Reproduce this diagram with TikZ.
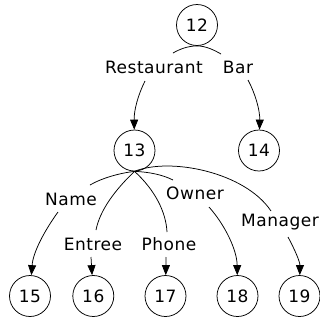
\documentclass[tikz,border=0pt]{standalone}
\usepackage{fontspec}
\setmainfont{DejaVu Sans}[LetterSpace=3]
\usetikzlibrary{arrows.meta}
\begin{document}
\begin{tikzpicture}[x=1pt,y=-1pt,
  state/.style={circle,draw,line width=0.75pt,minimum size=41pt,inner sep=0pt,font=\fontsize{17}{20}\selectfont},
  lbl/.style={inner sep=0pt,font=\fontsize{17}{20}\selectfont},
  edge/.style={line width=0.75pt},
  arr/.style={line width=0.75pt,-{Triangle[length=10pt,width=8pt]}}]
\useasboundingbox (0,0) rectangle (320,322);
\node[state] (n12) at (197,25) {12};
\node[state] (n13) at (134.5,150.5) {13};
\node[state] (n14) at (259,150.5) {14};
\node[state] (n15) at (30,296) {15};
\node[state] (n16) at (93.3,296) {16};
\node[state] (n17) at (165.5,296) {17};
\node[state] (n18) at (237.5,296) {18};
\node[state] (n19) at (299.5,296) {19};
% labels
\node[lbl] (lrest) at (154,67) {Restaurant};
\node[lbl] (lbar) at (238,67) {Bar};
\node[lbl] (lname) at (71,199) {Name};
\node[lbl] (lentree) at (93,244) {Entree};
\node[lbl] (lphone) at (169,244) {Phone};
\node[lbl] (lowner) at (195,193) {Owner};
\node[lbl] (lman) at (280,222) {Manager};
% coordinates at label ends
\coordinate (rt) at (173,53); \coordinate (rb) at (145,81);
\coordinate (bt) at (221,54); \coordinate (bb) at (248,80);
\coordinate (nt) at (90,185); \coordinate (nb) at (58,212);
\coordinate (et) at (96,230); \coordinate (eb) at (91,257);
\coordinate (pt) at (167,232); \coordinate (pb) at (166,257);
\coordinate (ot) at (173,180); \coordinate (ob) at (209,207);
\coordinate (mt) at (271,211); \coordinate (mb) at (288,237);
% edges from 12
\draw[edge] (n12.south) .. controls (188,46) and (180,49) .. (rt);
\draw[arr] (rb) .. controls (138,95) and (134,110) .. (n13);
\draw[edge] (n12.south) .. controls (206,46) and (214,50) .. (bt);
\draw[arr] (bb) .. controls (255,93) and (260,110) .. (n14);
% edges from 13
\draw[edge] (n13.south) .. controls (120,173) and (102,178) .. (nt);
\draw[arr] (nb) .. controls (45,230) and (33,252) .. (n15);
\draw[edge] (n13.south) .. controls (115,190) and (100,210) .. (et);
\draw[arr] (eb) -- (n16);
\draw[edge] (n13.south) .. controls (155,190) and (166,212) .. (pt);
\draw[arr] (pb) -- (n17);
\draw[edge] (n13.south) .. controls (150,172) and (163,175) .. (ot);
\draw[arr] (ob) .. controls (225,225) and (237,250) .. (n18);
\draw[edge] (n13.south) .. controls (170,157) and (245,172) .. (mt);
\draw[arr] (mb) .. controls (295,250) and (300,262) .. (n19);
\end{tikzpicture}
\end{document}
